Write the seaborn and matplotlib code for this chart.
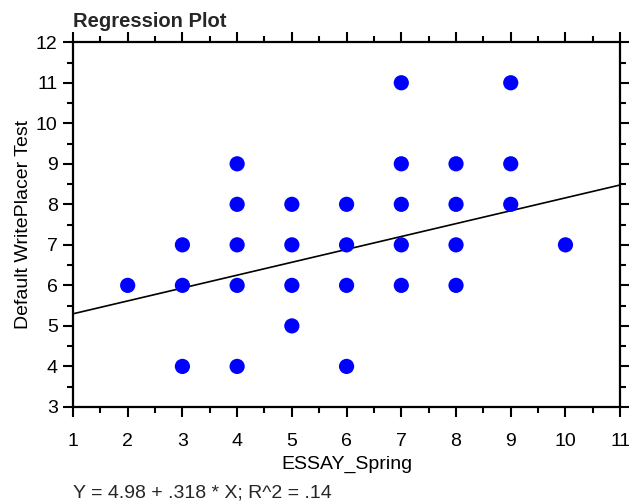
import matplotlib
matplotlib.use('Agg')
import matplotlib.pyplot as plt
import seaborn as sns
import numpy as np
import pandas as pd
from matplotlib.ticker import MultipleLocator

# -----------data---------------
essay_spring = [2, 3, 3, 3, 4, 4, 4, 4, 4, 5, 5, 5, 5, 6, 6, 6, 6,
                7, 7, 7, 7, 7, 8, 8, 8, 8, 9, 9, 9, 10]
writeplacer = [6, 7, 6, 4, 9, 8, 7, 6, 4, 8, 7, 6, 5, 8, 7, 6, 4,
               11, 9, 8, 7, 6, 9, 8, 7, 6, 11, 9, 8, 7]
intercept = 4.98
slope = 0.318
x_range = [1, 11]

df = pd.DataFrame({'ESSAY_Spring': essay_spring, 'WritePlacer': writeplacer})

sns.set_style('white')
plt.rcParams['font.family'] = ['Liberation Sans', 'DejaVu Sans']

fig = plt.figure(figsize=(6.29, 5.03), dpi=100)
ax = fig.add_axes([0.116, 0.191, 0.87, 0.725])

sns.scatterplot(data=df, x='ESSAY_Spring', y='WritePlacer', color='#0000ff',
                s=120, edgecolor='none', ax=ax, zorder=3, clip_on=False)

xl = np.array(x_range, dtype=float)
ax.plot(xl, intercept + slope * xl, color='black', lw=1.2)

ax.set_xlim(1, 11)
ax.set_ylim(3, 12)
ax.xaxis.set_major_locator(MultipleLocator(1))
ax.xaxis.set_minor_locator(MultipleLocator(0.5))
ax.yaxis.set_major_locator(MultipleLocator(1))
ax.yaxis.set_minor_locator(MultipleLocator(0.5))
ax.tick_params(which='both', direction='out', top=True, right=True,
               bottom=True, left=True, labelsize=14, width=1.5, color='black',
               labelcolor='black')
ax.tick_params(which='major', length=7)
ax.tick_params(which='minor', length=4)
ax.tick_params(axis='x', labeltop=False, pad=12)
ax.tick_params(axis='y', labelright=False, pad=4)
for sp in ax.spines.values():
    sp.set_color('black')
    sp.set_linewidth(1.6)

ax.set_xlabel('ESSAY_Spring', fontsize=14, labelpad=4, color='black')
ax.set_ylabel('Default WritePlacer Test', fontsize=14, labelpad=3, color='black')
fig.text(0.116, 0.946, 'Regression Plot', fontsize=14.5, fontweight='bold',
         ha='left', va='baseline')
fig.text(0.116, 0.01, 'Y = 4.98 + .318 * X; R^2 = .14', fontsize=14,
         ha='left', va='baseline')

fig.savefig('out.png', dpi=100)
